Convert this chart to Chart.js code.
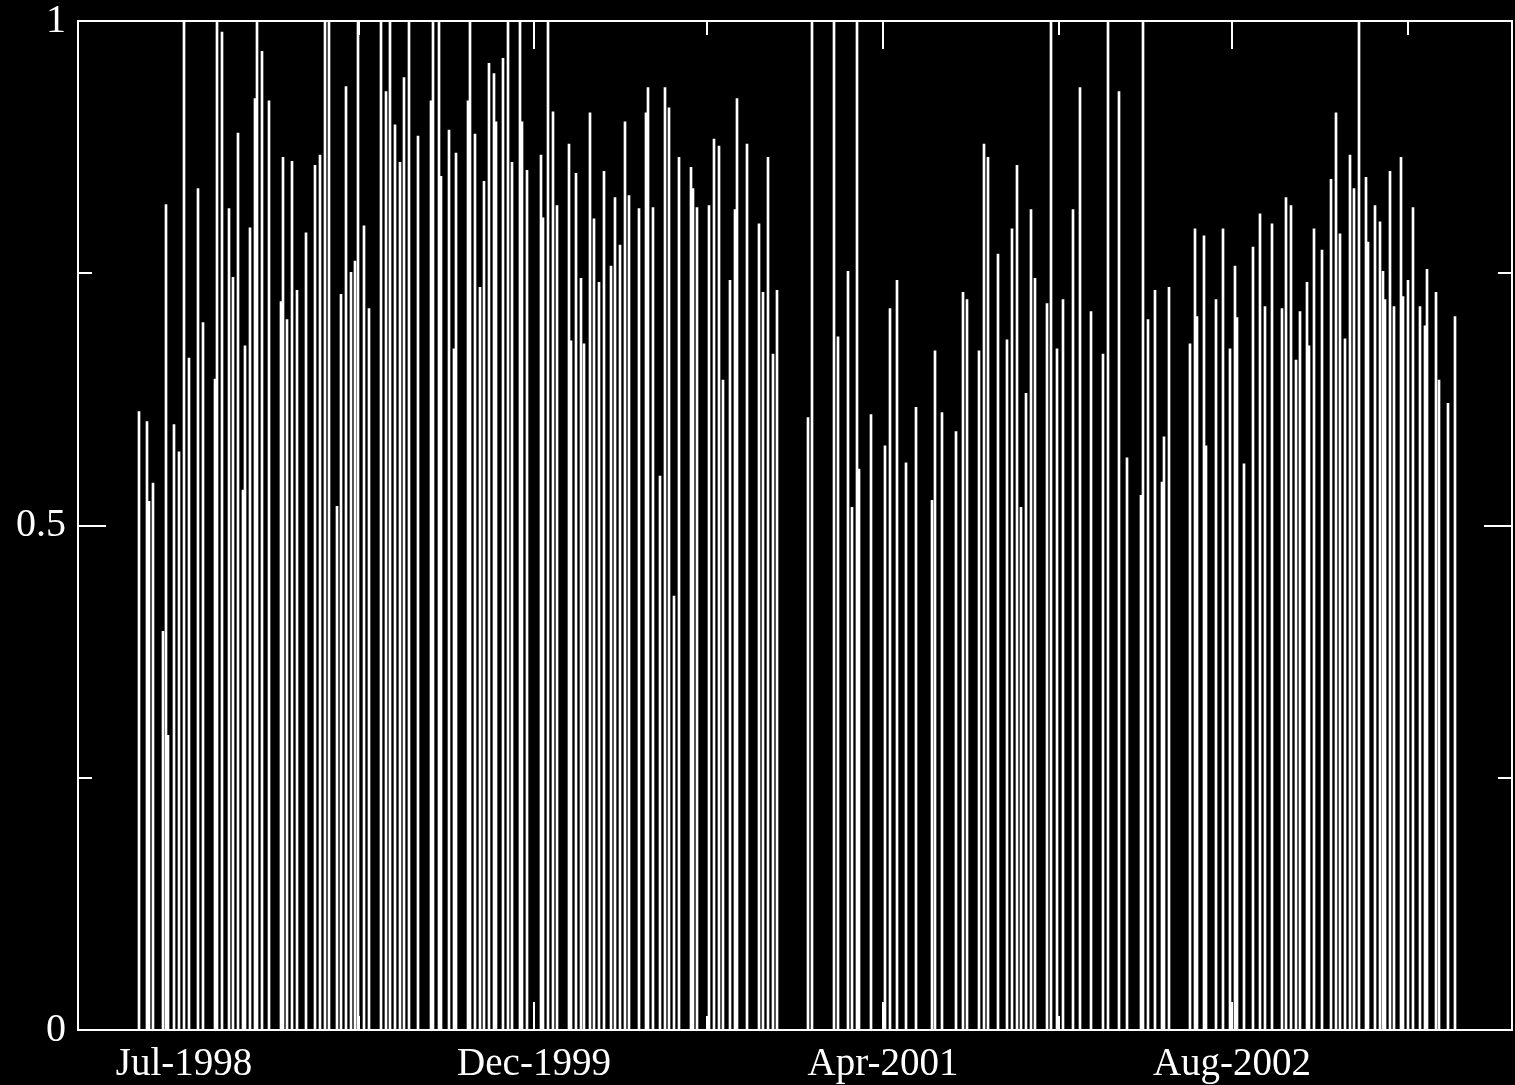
<!DOCTYPE html>
<html>
<head>
<meta charset="utf-8">
<title>Weekly ratio</title>
<script src="https://cdn.jsdelivr.net/npm/chart.js@4.4.0/dist/chart.umd.min.js"></script>
<style>
  html, body { margin: 0; padding: 0; background: #000; }
  #wrap { width: 1515px; height: 1085px; }
</style>
</head>
<body>
<div id="wrap"><canvas id="ratioChart" width="1515" height="1085"></canvas></div>
<script>
/* bar chart on black, white thin bars, ticks inside the frame */

// trading-day index of each bar (axis runs 0..1434)
var BAR_DAY = [
  61, 69, 71, 75, 85, 88, 90, 96, 101, 106, 111, 120, 125, 137, 139, 144, 151, 155, 160, 165,
  167, 172, 177, 179, 184, 191, 203, 205, 209, 214, 219, 228, 237, 242, 247, 251, 259, 263, 268, 273,
  277, 280,
  286, 291, 303, 308, 312, 317, 322, 326, 331, 340, 353, 355, 361, 363, 371, 376, 378, 390, 392, 397,
  402, 406, 411, 416, 418, 425, 430, 434, 442, 444, 449, 463, 465, 470, 475, 479, 491, 493, 498, 503,
  506,
  512, 516, 521, 526, 533, 537, 542, 547, 551, 561, 568, 570, 575, 582, 587, 591, 596, 601, 613, 615,
  619, 631, 636, 641, 645, 652, 657, 659, 669, 681, 685, 690, 695, 699,
  730, 734, 756, 760, 770, 774, 779, 781, 793, 807, 812, 819, 828, 838, 854, 857, 864, 878, 885, 889,
  901, 906, 910, 920, 929, 934, 939, 943, 948, 953, 957,
  969, 973, 979, 985, 995, 1002, 1013, 1025, 1030, 1041, 1049, 1063, 1065, 1070, 1077, 1084, 1086, 1091, 1112, 1117,
  1119, 1126, 1128, 1138, 1145, 1152, 1157, 1159, 1166, 1175, 1182,
  1187, 1194, 1204, 1208, 1213, 1218, 1222, 1229, 1231, 1236, 1244, 1253, 1258, 1262, 1267, 1272, 1276, 1281, 1288, 1290,
  1297, 1302, 1305, 1307, 1312, 1316, 1323, 1325, 1330, 1335, 1342, 1347, 1349, 1358, 1361, 1370, 1377
];

var BAR_VALUE = [
  0.613, 0.603, 0.524, 0.542, 0.395, 0.818, 0.292, 0.600, 0.573, 1.0, 0.666, 0.834, 0.701, 0.645, 1.0, 0.989, 0.814, 0.746, 0.889, 0.535,
  0.678, 0.795, 0.923, 1.0, 0.970, 0.921, 0.722, 0.865, 0.704, 0.861, 0.733, 0.790, 0.857, 0.867, 1.0, 1.0, 0.519, 0.729, 0.935, 0.751,
  0.762, 1.0,
  0.797, 0.715, 1.0, 0.930, 1.0, 0.897, 0.860, 0.944, 1.0, 0.886, 0.921, 1.0, 1.0, 0.846, 0.892, 0.675, 0.869, 0.921, 1.0, 0.888,
  0.736, 0.841, 0.958, 0.948, 0.900, 0.963, 1.0, 0.860, 1.0, 0.900, 0.852, 0.867, 0.805, 1.0, 0.910, 0.817, 0.878, 0.683, 0.849, 0.745,
  0.680,
  0.909, 0.804, 0.741, 0.851, 0.757, 0.825, 0.778, 0.900, 0.827, 0.814, 0.909, 0.934, 0.815, 0.549, 0.934, 0.914, 0.430, 0.865, 0.855, 0.834,
  0.815, 0.817, 0.883, 0.876, 0.644, 0.743, 0.813, 0.923, 0.878, 0.799, 0.731, 0.865, 0.670, 0.733,
  0.607, 1.0, 1.0, 0.687, 0.752, 0.518, 1.0, 0.556, 0.610, 0.579, 0.715, 0.743, 0.562, 0.617, 0.525, 0.673, 0.612, 0.593, 0.731, 0.724,
  0.673, 0.878, 0.865, 0.769, 0.684, 0.794, 0.857, 0.518, 0.631, 0.813, 0.745,
  0.720, 1.0, 0.675, 0.724, 0.813, 0.934, 0.712, 0.670, 1.0, 0.930, 0.567, 0.530, 1.0, 0.704, 0.733, 0.543, 0.588, 0.736, 0.680, 0.794,
  0.707, 0.787, 0.579, 0.724, 0.794, 0.675, 0.757, 0.706, 0.561, 0.776, 0.809,
  0.717, 0.799, 0.715, 0.825, 0.817, 0.664, 0.712, 0.741, 0.678, 0.794, 0.773, 0.843, 0.909, 0.789, 0.685, 0.867, 0.834, 1.0, 0.845, 0.781,
  0.817, 0.801, 0.752, 0.724, 0.851, 0.717, 0.865, 0.727, 0.743, 0.815, 0.717, 0.698, 0.754, 0.731, 0.644, 0.621, 0.707
];

var X_TICK_DAY = [106, 456, 805, 1154];
var X_TICK_LABELS = ['Jul-1998', 'Dec-1999', 'Apr-2001', 'Aug-2002'];
var X_MINOR_DAY = [281, 629, 981, 1330];
var Y_TICK_VALUES = [0, 0.5, 1];
var Y_TICK_LABELS = ['0', '0.5', '1'];
var Y_MINOR_VALUES = [0.25, 0.75];

var X_MIN = 0;
var X_MAX = 1434;
var FONT_FAMILY = '"Liberation Serif", "DejaVu Serif", serif';

function buildBarPoints() {
  var points = [];
  var i;
  for (i = 0; i < BAR_DAY.length; i += 1) {
    points.push({ x: BAR_DAY[i], y: BAR_VALUE[i] });
  }
  return points;
}

function strokeLine(ctx, x1, y1, x2, y2) {
  ctx.beginPath();
  ctx.moveTo(x1, y1);
  ctx.lineTo(x2, y2);
  ctx.stroke();
}

// frame plus inward tick marks on all four sides
var frameTicksPlugin = {
  id: 'frameTicks',
  afterDraw: function (chart) {
    var ctx = chart.ctx;
    var area = chart.chartArea;
    var xs = chart.scales.x;
    var ys = chart.scales.y;
    var majorLen = 28;
    var minorLen = 14;
    var i, px, py;

    ctx.save();
    ctx.strokeStyle = '#ffffff';
    ctx.lineWidth = 2;
    ctx.strokeRect(area.left, area.top, area.right - area.left, area.bottom - area.top);

    for (i = 0; i < X_TICK_DAY.length; i += 1) {
      px = Math.round(xs.getPixelForValue(X_TICK_DAY[i]));
      strokeLine(ctx, px, area.bottom, px, area.bottom - majorLen);
      strokeLine(ctx, px, area.top, px, area.top + majorLen);
    }
    for (i = 0; i < X_MINOR_DAY.length; i += 1) {
      px = Math.round(xs.getPixelForValue(X_MINOR_DAY[i]));
      strokeLine(ctx, px, area.bottom, px, area.bottom - minorLen);
      strokeLine(ctx, px, area.top, px, area.top + minorLen);
    }
    for (i = 0; i < Y_TICK_VALUES.length; i += 1) {
      py = Math.round(ys.getPixelForValue(Y_TICK_VALUES[i]));
      strokeLine(ctx, area.left, py, area.left + majorLen, py);
      strokeLine(ctx, area.right, py, area.right - majorLen, py);
    }
    for (i = 0; i < Y_MINOR_VALUES.length; i += 1) {
      py = Math.round(ys.getPixelForValue(Y_MINOR_VALUES[i]));
      strokeLine(ctx, area.left, py, area.left + minorLen, py);
      strokeLine(ctx, area.right, py, area.right - minorLen, py);
    }
    ctx.restore();
  }
};

function renderRatioChart() {
  var canvas = document.getElementById('ratioChart');

  if (!canvas || typeof Chart === 'undefined') {
    return;
  }

  new Chart(canvas.getContext('2d'), {
    type: 'bar',
    data: {
      datasets: [
        {
          data: buildBarPoints(),
          backgroundColor: '#ffffff',
          borderWidth: 0,
          barThickness: 2
        }
      ]
    },
    options: {
      responsive: false,
      animation: false,
      layout: { padding: { left: 0, right: 3, top: 21, bottom: 0 } },
      plugins: {
        legend: { display: false },
        tooltip: { enabled: false }
      },
      scales: {
        x: {
          type: 'linear',
          min: X_MIN,
          max: X_MAX,
          offset: false,
          grid: { display: false, drawTicks: false },
          border: { display: false },
          afterBuildTicks: function (scale) {
            scale.ticks = X_TICK_DAY.map(function (v) { return { value: v }; });
          },
          afterFit: function (scale) {
            scale.height = 55;
            scale.paddingLeft = 0;
            scale.paddingRight = 0;
          },
          ticks: {
            autoSkip: false,
            maxRotation: 0,
            padding: 11,
            color: '#ffffff',
            font: { family: FONT_FAMILY, size: 39 },
            callback: function (value, index) {
              return X_TICK_LABELS[index];
            }
          }
        },
        y: {
          min: 0,
          max: 1,
          grid: { display: false, drawTicks: false },
          border: { display: false },
          afterBuildTicks: function (scale) {
            scale.ticks = Y_TICK_VALUES.map(function (v) { return { value: v }; });
          },
          afterFit: function (scale) {
            scale.width = 78;
            scale.paddingTop = 0;
            scale.paddingBottom = 0;
          },
          ticks: {
            padding: 12,
            color: '#ffffff',
            font: { family: FONT_FAMILY, size: 40 },
            callback: function (value, index) {
              return Y_TICK_LABELS[index];
            }
          }
        }
      }
    },
    plugins: [frameTicksPlugin]
  });
}

document.addEventListener('DOMContentLoaded', renderRatioChart);
</script>
</body>
</html>
